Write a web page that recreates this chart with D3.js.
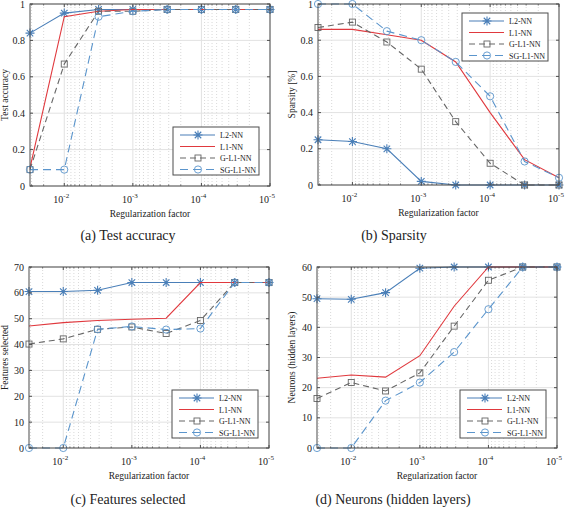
<html>
<head>
    <script src="https://cdnjs.cloudflare.com/ajax/libs/d3/7.8.5/d3.min.js"></script>
    <style>
        body { margin: 0; background: white; }
        svg text { font-family: "Liberation Serif", "DejaVu Serif", serif; fill: #222; }
    </style>
</head>
<body>
    <script>
        // regularization factors (x), half decades from 10^-1.5 to 10^-5
        var factors = [0.0316, 0.01, 0.00316, 0.001, 0.000316, 0.0001, 0.0000316, 0.00001];
        var majorTicks = [1e-2, 1e-3, 1e-4, 1e-5];
        var majorTickExp = ["-2", "-3", "-4", "-5"];
        var seriesNames = ["L2-NN", "L1-NN", "G-L1-NN", "SG-L1-NN"];

        // (a) test accuracy
        var accL2 = [0.84, 0.95, 0.97, 0.97, 0.97, 0.97, 0.97, 0.97];
        var accL1 = [0.10, 0.93, 0.96, 0.97, 0.97, 0.97, 0.97, 0.97];
        var accGL1 = [0.09, 0.67, 0.96, 0.96, 0.97, 0.97, 0.97, 0.97];
        var accSGL1 = [0.09, 0.09, 0.93, 0.96, 0.97, 0.97, 0.97, 0.97];

        // (b) sparsity
        var spL2 = [0.25, 0.24, 0.20, 0.02, 0.0, 0.0, 0.0, 0.0];
        var spL1 = [0.86, 0.86, 0.83, 0.80, 0.68, 0.40, 0.14, 0.04];
        var spGL1 = [0.87, 0.90, 0.79, 0.64, 0.35, 0.12, 0.0, 0.0];
        var spSGL1 = [1.0, 1.0, 0.85, 0.80, 0.68, 0.49, 0.13, 0.04];

        // (c) features selected
        var ftL2 = [60.5, 60.5, 61, 64, 64, 64, 64, 64];
        var ftL1 = [47.2, 48.5, 49.3, 49.8, 50.2, 64, 64, 64];
        var ftGL1 = [40.2, 42.2, 45.9, 46.8, 44.3, 49.3, 64, 64];
        var ftSGL1 = [0, 0, 45.9, 47.0, 45.8, 46.2, 64, 64];

        // (d) neurons (hidden layers)
        var nrL2 = [49.5, 49.3, 51.5, 59.6, 60, 60, 60, 60];
        var nrL1 = [23.1, 24.2, 23.5, 30.6, 47, 60, 60, 60];
        var nrGL1 = [16.4, 21.7, 18.9, 24.9, 40.4, 55.6, 60, 60];
        var nrSGL1 = [0, 0, 15.7, 21.7, 31.8, 46, 60, 60];

        var yTicksUnit = [0, 0.2, 0.4, 0.6, 0.8, 1];
        var yTicks70 = [0, 10, 20, 30, 40, 50, 60, 70];
        var yTicks60 = [0, 10, 20, 30, 40, 50, 60];

        var styles = [
            { color: "#4a7fb8", dash: "none", marker: "star" },
            { color: "#e0393e", dash: "none", marker: "none" },
            { color: "#666666", dash: "6,4", marker: "square" },
            { color: "#5b95cc", dash: "8,5", marker: "circle" }
        ];

        var svg = d3.select("body").append("svg")
            .attr("width", 567)
            .attr("height", 508)
            .attr("font-family", "Liberation Serif, DejaVu Serif, serif");

        var panels = [
            { left: 30, top: 4, w: 240, h: 182, ymax: 1, ticks: yTicksUnit, ylabel: "Test accuracy", ylabelX: 5,
              caption: "(a) Test accuracy", capX: 128, capY: 240, legend: [173, 127],
              series: [accL2, accL1, accGL1, accSGL1] },
            { left: 318, top: 4, w: 241, h: 181, ymax: 1, ticks: yTicksUnit, ylabel: "Sparsity [%]", ylabelX: 292,
              caption: "(b) Sparsity", capX: 394, capY: 240, legend: [462, 13],
              series: [spL2, spL1, spGL1, spSGL1] },
            { left: 29, top: 267, w: 240, h: 181, ymax: 70, ticks: yTicks70, ylabel: "Features selected", ylabelX: 5,
              caption: "(c) Features selected", capX: 128, capY: 504, legend: [172, 390],
              series: [ftL2, ftL1, ftGL1, ftSGL1] },
            { left: 317, top: 267, w: 240, h: 181, ymax: 60, ticks: yTicks60, ylabel: "Neurons (hidden layers)", ylabelX: 292,
              caption: "(d) Neurons (hidden layers)", capX: 393, capY: 504, legend: [460, 390],
              series: [nrL2, nrL1, nrGL1, nrSGL1] }
        ];

        // minor log ticks inside the domain
        var minorTicks = [2e-2, 3e-2];
        [-3, -4, -5].forEach(function (e) {
            for (var k = 2; k <= 9; k++) {
                minorTicks.push(k * Math.pow(10, e));
            }
        });

        panels.forEach(drawPanel);

        function drawMarker(g, type, cx, cy, color) {
            if (type == "star") {
                var r = 4.5, q = r * 0.72;
                g.append("path")
                    .attr("d", "M" + (cx - r) + "," + cy + "H" + (cx + r) +
                        "M" + cx + "," + (cy - r) + "V" + (cy + r) +
                        "M" + (cx - q) + "," + (cy - q) + "L" + (cx + q) + "," + (cy + q) +
                        "M" + (cx - q) + "," + (cy + q) + "L" + (cx + q) + "," + (cy - q))
                    .attr("stroke", color)
                    .attr("stroke-width", 1.1)
                    .attr("fill", "none");
            } else if (type == "square") {
                g.append("rect")
                    .attr("x", cx - 3).attr("y", cy - 3)
                    .attr("width", 6).attr("height", 6)
                    .attr("fill", "none")
                    .attr("stroke", color)
                    .attr("stroke-width", 0.9);
            } else if (type == "circle") {
                g.append("circle")
                    .attr("cx", cx).attr("cy", cy).attr("r", 3.6)
                    .attr("fill", "none")
                    .attr("stroke", color)
                    .attr("stroke-width", 0.9);
            }
        }

        function drawPanel(p) {
            var g = svg.append("g").attr("transform", "translate(" + p.left + "," + p.top + ")");

            var x = d3.scaleLog().domain([0.0316, 0.00001]).range([0, p.w]);
            var y = d3.scaleLinear().domain([0, p.ymax]).range([p.h, 0]);

            // minor grid (dotted, vertical)
            g.selectAll(".minor").data(minorTicks).enter().append("line")
                .attr("x1", d => x(d)).attr("x2", d => x(d))
                .attr("y1", 0).attr("y2", p.h)
                .attr("stroke", "#c8c8c8")
                .attr("stroke-width", 0.7)
                .attr("stroke-dasharray", "1,2");

            // major grid
            g.selectAll(".gx").data(majorTicks).enter().append("line")
                .attr("x1", d => x(d)).attr("x2", d => x(d))
                .attr("y1", 0).attr("y2", p.h)
                .attr("stroke", "#e2e2e2");
            g.selectAll(".gy").data(p.ticks).enter().append("line")
                .attr("x1", 0).attr("x2", p.w)
                .attr("y1", d => y(d)).attr("y2", d => y(d))
                .attr("stroke", "#e2e2e2");

            // series
            p.series.forEach(function (vals, i) {
                var st = styles[i];
                var line = d3.line()
                    .x((d, j) => x(factors[j]))
                    .y(d => y(d));
                g.append("path")
                    .datum(vals)
                    .attr("d", line)
                    .attr("fill", "none")
                    .attr("stroke", st.color)
                    .attr("stroke-width", 1.1)
                    .attr("stroke-dasharray", st.dash);
                vals.forEach(function (v, j) {
                    drawMarker(g, st.marker, x(factors[j]), y(v), st.color);
                });
            });

            // box
            g.append("rect")
                .attr("width", p.w).attr("height", p.h)
                .attr("fill", "none")
                .attr("stroke", "#4d4d4d")
                .attr("stroke-width", 1);

            // ticks inward
            var tickColor = "#4d4d4d";
            majorTicks.forEach(function (t) {
                g.append("line").attr("x1", x(t)).attr("x2", x(t)).attr("y1", p.h).attr("y2", p.h - 3).attr("stroke", tickColor);
                g.append("line").attr("x1", x(t)).attr("x2", x(t)).attr("y1", 0).attr("y2", 3).attr("stroke", tickColor);
            });
            minorTicks.forEach(function (t) {
                g.append("line").attr("x1", x(t)).attr("x2", x(t)).attr("y1", p.h).attr("y2", p.h - 1.6).attr("stroke", tickColor).attr("stroke-width", 0.7);
                g.append("line").attr("x1", x(t)).attr("x2", x(t)).attr("y1", 0).attr("y2", 1.6).attr("stroke", tickColor).attr("stroke-width", 0.7);
            });
            p.ticks.forEach(function (t) {
                g.append("line").attr("x1", 0).attr("x2", 3).attr("y1", y(t)).attr("y2", y(t)).attr("stroke", tickColor);
                g.append("line").attr("x1", p.w).attr("x2", p.w - 3).attr("y1", y(t)).attr("y2", y(t)).attr("stroke", tickColor);
            });

            // y tick labels
            g.selectAll(".yl").data(p.ticks).enter().append("text")
                .attr("x", -5)
                .attr("y", d => y(d) + 3.5)
                .attr("text-anchor", "end")
                .attr("font-size", 10)
                .text(d => d);

            // x tick labels
            majorTicks.forEach(function (t, i) {
                var tx = g.append("text")
                    .attr("x", x(t) - 3)
                    .attr("y", p.h + 17)
                    .attr("text-anchor", "middle")
                    .attr("font-size", 10);
                tx.append("tspan").text("10");
                tx.append("tspan").attr("dy", -5).attr("font-size", 7).text(majorTickExp[i]);
            });

            // axis labels
            g.append("text")
                .attr("x", p.w / 2)
                .attr("y", p.h + 31)
                .attr("text-anchor", "middle")
                .attr("font-size", 9.5)
                .text("Regularization factor");
            svg.append("text")
                .attr("transform", "translate(" + p.ylabelX + "," + (p.top + p.h / 2) + ") rotate(-90)")
                .attr("text-anchor", "middle")
                .attr("dy", "0.35em")
                .attr("font-size", 9.5)
                .text(p.ylabel);

            // caption
            svg.append("text")
                .attr("x", p.capX)
                .attr("y", p.capY)
                .attr("text-anchor", "middle")
                .attr("font-size", 14)
                .text(p.caption);

            // legend
            var lg = svg.append("g").attr("transform", "translate(" + p.legend[0] + "," + p.legend[1] + ")");
            lg.append("rect")
                .attr("width", 86).attr("height", 48)
                .attr("fill", "white")
                .attr("stroke", "#4d4d4d");
            seriesNames.forEach(function (name, i) {
                var st = styles[i];
                var ly = 8 + i * 11.5;
                lg.append("line")
                    .attr("x1", 7).attr("x2", 42)
                    .attr("y1", ly).attr("y2", ly)
                    .attr("stroke", st.color)
                    .attr("stroke-width", 1.1)
                    .attr("stroke-dasharray", st.dash);
                drawMarker(lg, st.marker, 25, ly, st.color);
                lg.append("text")
                    .attr("x", 47)
                    .attr("y", ly + 3)
                    .attr("font-size", 8)
                    .text(name);
            });
        }
    </script>
</body>
</html>
